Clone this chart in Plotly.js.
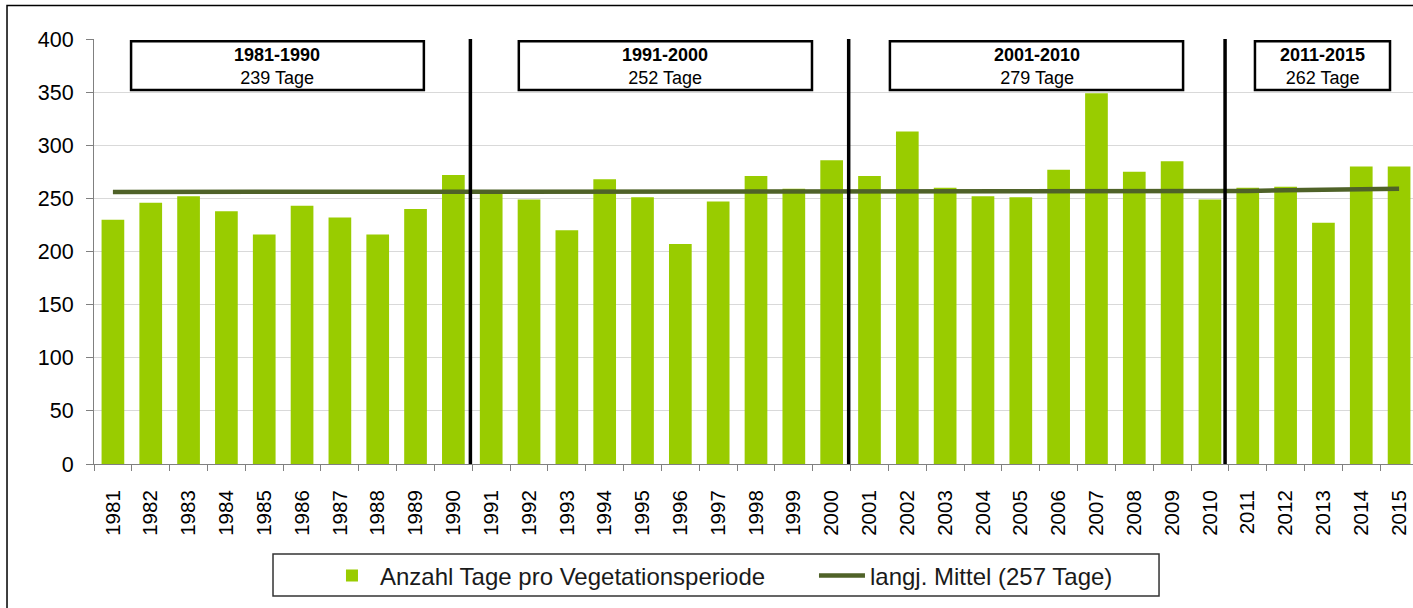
<!DOCTYPE html>
<html>
<head>
<meta charset="utf-8">
<script src="https://cdn.plot.ly/plotly-3.0.1.min.js"></script>
<style>
  html, body { margin: 0; padding: 0; background: #fff; overflow: hidden; }
  #chart { width: 1418px; height: 608px; }
</style>
</head>
<body>
<div id="chart"></div>
<script>
// ---- data ----
const years = ['1981','1982','1983','1984','1985','1986','1987','1988','1989','1990',
               '1991','1992','1993','1994','1995','1996','1997','1998','1999','2000',
               '2001','2002','2003','2004','2005','2006','2007','2008','2009','2010',
               '2011','2012','2013','2014','2015'];
const daysPerSeason = [230,246,252,238,216,243,232,216,240,272,
                       258,249,220,268,251,207,247,271,259,286,
                       271,313,260,252,251,277,349,275,285,249,
                       260,261,227,280,280];
const longTermMean = [256,256,256,256,256,256,256,256,256,256,
                      256,256,256,256,256,256,256,256,256,256,
                      256,256,256,256,256,256,256,256,256,256,
                      257,257.7,258.2,258.6,259];
const periodLabels = ['1981-1990','1991-2000','2001-2010','2011-2015'];
const periodMeans = [239, 252, 279, 262];
const barName = 'Anzahl Tage pro Vegetationsperiode';
const lineName = 'langj. Mittel (257 Tage)';
const yTicks = [0,50,100,150,200,250,300,350,400];

// ---- layout helpers (positions / styles) ----
const FONT = 'Liberation Sans, Arial, sans-serif';
const boxSpans = [[0.48, 8.22], [10.73, 18.48], [20.54, 28.29], [30.19, 33.76]];
const separators = [9.45, 19.45, 29.4];

const shapes = [];
const annotations = [];
boxSpans.forEach((s, i) => {
  shapes.push({type:'rect', xref:'x', yref:'y', x0:s[0], x1:s[1], y0:352, y1:398,
               line:{color:'#000', width:2.5}, fillcolor:'#fff', layer:'above'});
  annotations.push({xref:'x', yref:'y', x:(s[0]+s[1])/2, y:374.5, showarrow:false,
                    text:'<b>' + periodLabels[i] + '</b><br>' + periodMeans[i] + ' Tage',
                    font:{family:FONT, size:18, color:'#000'}, align:'center'});
});
separators.forEach(xv => {
  shapes.push({type:'line', xref:'x', yref:'y', x0:xv, x1:xv, y0:0, y1:400,
               line:{color:'#000', width:3.5}, layer:'above'});
});
// outer chart border (left and top visible)
shapes.push({type:'rect', xref:'paper', yref:'paper', x0:-0.0657, x1:1.5, y0:-1, y1:1.0788,
             line:{color:'#000', width:1.5}, fillcolor:'rgba(0,0,0,0)', layer:'below'});
// legend frame
shapes.push({type:'rect', xref:'paper', yref:'paper', x0:0.1352, x1:0.8044, y0:-0.3106, y1:-0.2118,
             line:{color:'#333', width:1.5}, fillcolor:'rgba(0,0,0,0)', layer:'above'});

const traces = [
  {type:'bar', x:years, y:daysPerSeason, name:barName,
   marker:{color:'#99cc00'}, hoverinfo:'x+y'},
  {type:'scatter', mode:'lines', x:years, y:longTermMean, name:lineName,
   line:{color:'#4f6228', width:4.5}}
];

const layout = {
  width:1418, height:608,
  margin:{l:94, r:0, t:39, b:144, pad:0},
  paper_bgcolor:'#fff', plot_bgcolor:'#fff',
  bargap:0.4,
  font:{family:FONT, color:'#000'},
  showlegend:true,
  legend:{orientation:'h', x:0.1737, xanchor:'left', y:-0.2635, yanchor:'middle',
          borderwidth:0, bgcolor:'rgba(0,0,0,0)',
          font:{family:FONT, size:24, color:'#1a1a1a'}, itemwidth:46,
          entrywidth:429, entrywidthmode:'pixels'},
  xaxis:{type:'category', tickson:'boundaries', ticks:'outside', ticklen:6,
         tickcolor:'#808080', showline:true, linecolor:'#808080', linewidth:1,
         tickangle:-90, tickfont:{family:FONT, size:20.5, color:'#000'}, ticklabelstandoff:17,
         showgrid:false, zeroline:false, range:[-0.5, 34.5], fixedrange:true},
  yaxis:{range:[0,400], tickvals:yTicks, ticks:'outside', ticklen:7, tickcolor:'#808080',
         showline:true, linecolor:'#808080', linewidth:1,
         gridcolor:'#d9d9d9', gridwidth:1.2, zeroline:false,
         tickfont:{family:FONT, size:21.5, color:'#000'}, ticklabelstandoff:8, fixedrange:true},
  shapes:shapes,
  annotations:annotations
};

Plotly.newPlot('chart', traces, layout, {displayModeBar:false, staticPlot:true});
</script>
</body>
</html>
